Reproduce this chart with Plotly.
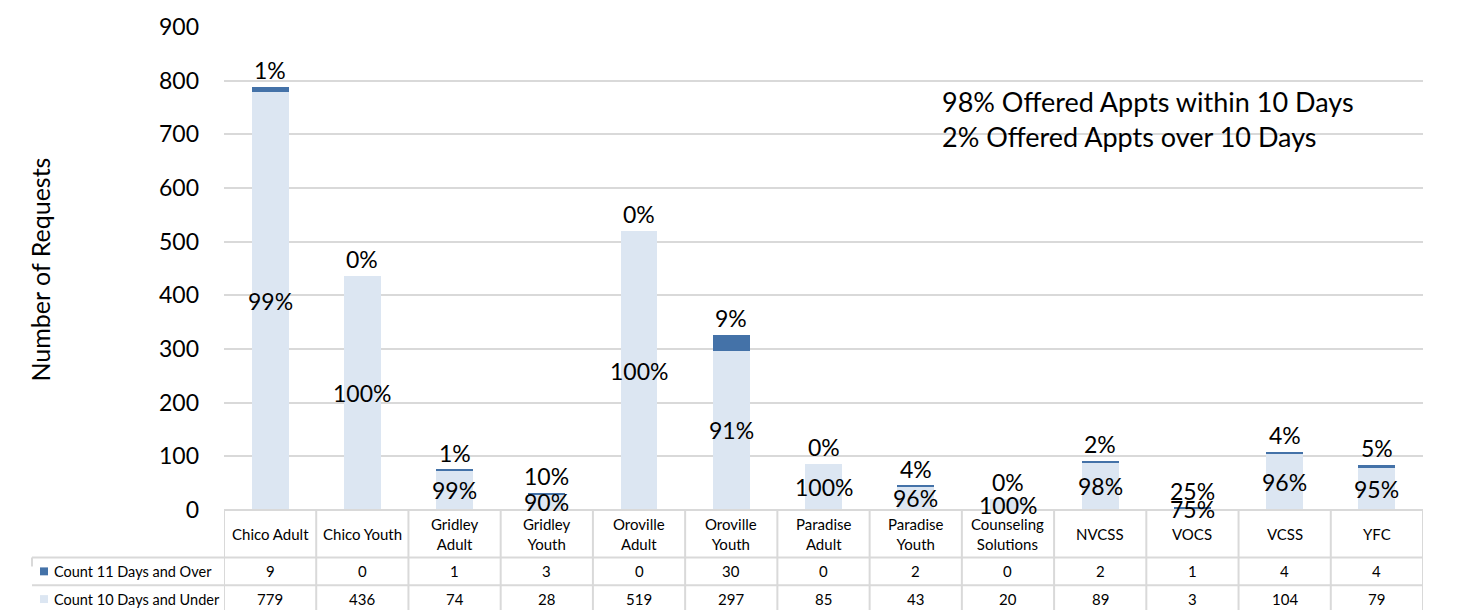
import plotly.graph_objects as go

# ---------------- data ----------------
categories = ["Chico Adult", "Chico Youth", "Gridley Adult", "Gridley Youth",
              "Oroville Adult", "Oroville Youth", "Paradise Adult", "Paradise Youth",
              "Counseling Solutions", "NVCSS", "VOCS", "VCSS", "YFC"]
header_labels = ["Chico Adult", "Chico Youth", "Gridley<br>Adult", "Gridley<br>Youth",
                 "Oroville<br>Adult", "Oroville<br>Youth", "Paradise<br>Adult", "Paradise<br>Youth",
                 "Counseling<br>Solutions", "NVCSS", "VOCS", "VCSS", "YFC"]
count_over = [9, 0, 1, 3, 0, 30, 0, 2, 0, 2, 1, 4, 4]
count_under = [779, 436, 74, 28, 519, 297, 85, 43, 20, 89, 3, 104, 79]
pct_over = ["1%", "0%", "1%", "10%", "0%", "9%", "0%", "4%", "0%", "2%", "25%", "4%", "5%"]
pct_under = ["99%", "100%", "99%", "90%", "100%", "91%", "100%", "96%", "100%", "98%", "75%", "96%", "95%"]
series_names = ["Count 11 Days and Over", "Count 10 Days and Under"]
summary_lines = ["98% Offered Appts within 10 Days", "2% Offered Appts over 10 Days"]
y_ticks = [0, 100, 200, 300, 400, 500, 600, 700, 800, 900]

# ---------------- style ----------------
FONT = "Lato, Calibri, Carlito, sans-serif"
DARK = "#4472a8"
LIGHT = "#dce6f2"
GRID = "#d9d9d9"
W, H = 1466, 610
L, R, T, B = 224, 1423, 22, 510


def px(xp):
    return (xp - L) / (R - L)


def py(yp):
    return (B - yp) / (B - T)


fig = go.Figure()
fig.add_trace(go.Bar(x=categories, y=count_under, name=series_names[1],
                     marker=dict(color=LIGHT, line=dict(width=0)), width=0.4))
fig.add_trace(go.Bar(x=categories, y=count_over, name=series_names[0],
                     marker=dict(color=DARK, line=dict(width=0)), width=0.4))

annotations = []
shapes = []

# bar labels
for c, u, o, pu, po in zip(categories, count_under, count_over, pct_under, pct_over):
    annotations.append(dict(x=c, y=u / 2, xref="x", yref="y", text=pu, showarrow=False,
                            font=dict(family=FONT, size=23, color="#000000"),
                            xanchor="center", yanchor="middle"))
    annotations.append(dict(x=c, y=u + o, xref="x", yref="y", text=po, showarrow=False,
                            font=dict(family=FONT, size=23, color="#000000"),
                            xanchor="center", yanchor="bottom", yshift=1))

# summary text
for i, line in enumerate(summary_lines):
    annotations.append(dict(x=px(940), y=py(97 + 36 * i), xref="paper", yref="paper",
                            text=line, showarrow=False, xanchor="left", yanchor="middle",
                            font=dict(family=FONT, size=27, color="#000000")))

# y axis title
annotations.append(dict(x=px(40), y=py(267), xref="paper", yref="paper",
                        text="Number of Requests", textangle=-90, showarrow=False,
                        xanchor="center", yanchor="middle",
                        font=dict(family=FONT, size=25, color="#000000")))

# ---------------- data table ----------------
n = len(categories)
row_y = [510, 558, 586, 614]
line_style = dict(color=GRID, width=2)
shapes.append(dict(type="line", xref="paper", yref="paper", x0=px(L), x1=px(R),
                   y0=py(row_y[0]), y1=py(row_y[0]), line=line_style))
for yy in row_y[1:3]:
    shapes.append(dict(type="line", xref="paper", yref="paper", x0=px(32), x1=px(R),
                       y0=py(yy), y1=py(yy), line=line_style))
for i in range(n + 1):
    shapes.append(dict(type="line", xref="x", yref="paper", x0=i - 0.5, x1=i - 0.5,
                       y0=py(row_y[0]), y1=py(row_y[3]), line=line_style))
shapes.append(dict(type="line", xref="paper", yref="paper", x0=px(32), x1=px(32),
                   y0=py(558), y1=py(567), line=line_style))

for c, hl in zip(categories, header_labels):
    annotations.append(dict(x=c, y=py((row_y[0] + row_y[1]) / 2), xref="x", yref="paper",
                            text=hl, showarrow=False, xanchor="center", yanchor="middle",
                            font=dict(family=FONT, size=15, color="#000000")))
for r_i, (vals, name, col) in enumerate([(count_over, series_names[0], DARK),
                                         (count_under, series_names[1], LIGHT)]):
    yc = (row_y[r_i + 1] + row_y[r_i + 2]) / 2
    for c, v in zip(categories, vals):
        annotations.append(dict(x=c, y=py(yc), xref="x", yref="paper", text=str(v),
                                showarrow=False, xanchor="center", yanchor="middle",
                                font=dict(family=FONT, size=15, color="#000000")))
    annotations.append(dict(x=px(52), y=py(yc), xref="paper", yref="paper", text=name,
                            showarrow=False, xanchor="left", yanchor="middle",
                            font=dict(family=FONT, size=14.5, color="#000000")))
    shapes.append(dict(type="rect", xref="paper", yref="paper", x0=px(40), x1=px(48),
                       y0=py(yc + 4), y1=py(yc - 4), fillcolor=col, line=dict(width=0)))

fig.update_layout(
    width=W, height=H,
    margin=dict(l=L, r=W - R, t=T, b=H - B, pad=0),
    barmode="stack",
    showlegend=False,
    plot_bgcolor="white", paper_bgcolor="white",
    font=dict(family=FONT, color="#000000"),
    xaxis=dict(showticklabels=False, showgrid=False, zeroline=False, showline=False,
               range=[-0.5, n - 0.5], fixedrange=True),
    yaxis=dict(range=[0, 900], tickvals=y_ticks, showgrid=True, gridcolor=GRID, gridwidth=1.5,
               zeroline=False, showline=False, ticks="", ticklabelstandoff=24,
               tickfont=dict(family=FONT, size=23, color="#000000"), fixedrange=True),
    annotations=annotations,
    shapes=shapes,
)

fig.write_html("out.html", config={"displayModeBar": False},
               post_script="document.body.style.margin='0';")
